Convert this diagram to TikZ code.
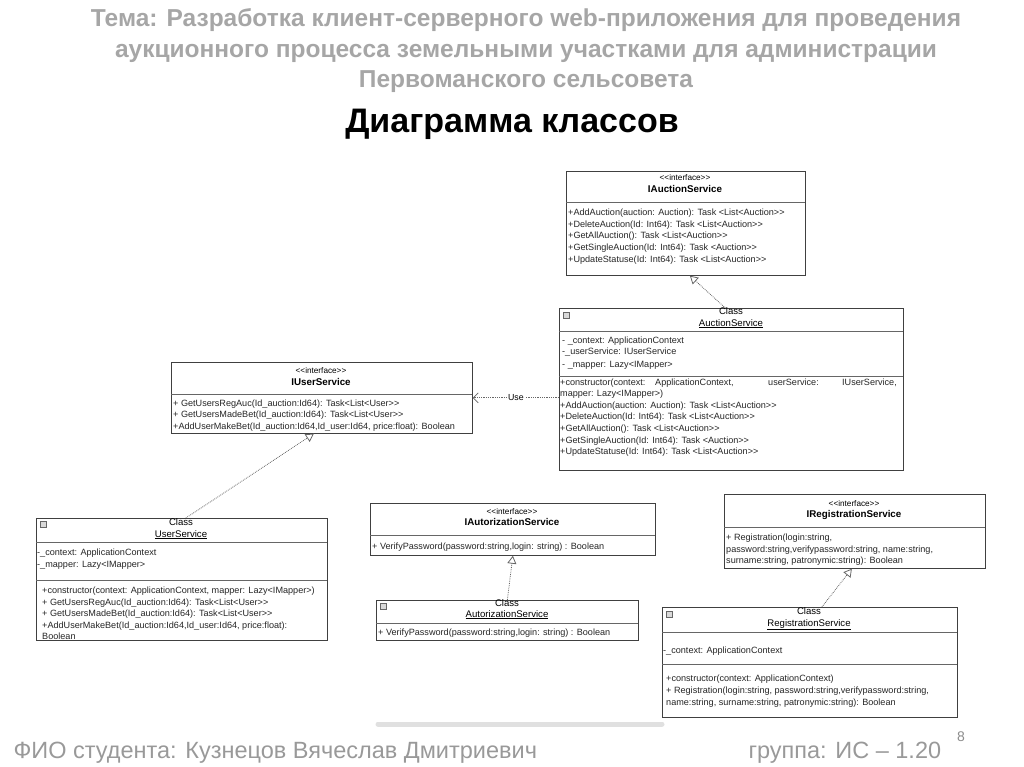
\documentclass[tikz,border=0pt]{standalone}
\usepackage{fontspec}
\setmainfont{Liberation Sans}[Ligatures=TeXOff]
\usetikzlibrary{arrows.meta, calc}

\newcommand\memfont{\fontsize{9.1}{10}\selectfont}
\newcommand\stfont{\fontsize{8.2}{9}\selectfont}
\newcommand\titlefont{\bfseries\fontsize{24.5}{30.5}\selectfont}
\newcommand\footfont{\fontsize{23.5}{26}\selectfont}

\begin{document}
\begin{tikzpicture}[
  x=1pt, y=-1pt,
  box/.style={draw=black!75, line width=0.7pt, fill=white, anchor=north west, inner sep=0pt},
  sep/.style={draw=black!60, line width=0.6pt},
  mem/.style={anchor=base west, inner sep=0pt, font=\memfont, text=black!85},
  stereo/.style={anchor=base, inner sep=0pt, font=\stfont},
  iname/.style={anchor=base, inner sep=0pt, font=\fontsize{9.8}{11}\selectfont\bfseries},
  cname/.style={anchor=base, inner sep=0pt, font=\fontsize{9.6}{11}\selectfont},
  icon/.style={draw=black!60, fill=black!15, line width=0.4pt},
  real/.style={densely dotted, draw=black!60, thick, -{Triangle[open, length=8pt, width=9pt]}},
  use/.style={densely dotted, draw=black!60, thick, -{Straight Barb[length=5pt, width=10pt]}}
]
  \useasboundingbox (0,0) rectangle (1024,767);

  % header
  \node[font=\titlefont, text=black!35, align=center] (theme) at (526,51)
    {Тема:  Разработка клиент-серверного web-приложения для проведения\\
     аукционного процесса земельными участками для администрации\\
     Первоманского сельсовета};
  \node[font=\bfseries\fontsize{34}{38}\selectfont] (heading) at (512,124) {Диаграмма классов};

  % IAuctionService
  \node[box, minimum width=239pt, minimum height=104pt] (ias) at (566,171) {};
  \node[stereo] (ias-st) at (685,181) {<<interface>>};
  \node[iname] (ias-n) at (685,193) {IAuctionService};
  \draw[sep] (566,202) -- (805,202);
  \node[mem] (ias-m1) at (568,215) {+AddAuction(auction: Auction): Task <List<Auction>>};
  \node[mem] (ias-m2) at (568,227) {+DeleteAuction(Id: Int64): Task <List<Auction>>};
  \node[mem] (ias-m3) at (568,239) {+GetAllAuction(): Task <List<Auction>>};
  \node[mem] (ias-m4) at (568,250) {+GetSingleAuction(Id: Int64): Task <Auction>>};
  \node[mem] (ias-m5) at (568,262) {+UpdateStatuse(Id: Int64): Task <List<Auction>>};

  % AuctionService
  \node[box, minimum width=344pt, minimum height=162pt] (as) at (559,308) {};
  \draw[icon] (563,312) rectangle ++(6,6);
  \node[cname] (as-st) at (731,314) {Class};
  \node[cname] (as-n) at (731,326) {\underline{AuctionService}};
  \draw[sep] (559,331) -- (903,331);
  \node[mem] (as-a1) at (562,343) {- \_context: ApplicationContext};
  \node[mem] (as-a2) at (562,354) {-\_userService: IUserService};
  \node[mem] (as-a3) at (562,367) {- \_mapper: Lazy<IMapper>};
  \draw[sep, line width=1pt] (559,376) -- (903,376);
  \node[mem] (as-c1) at (560,385) {+constructor(context:};
  \node[mem] (as-c2) at (655,385) {ApplicationContext,};
  \node[mem] (as-c3) at (768,385) {userService:};
  \node[mem] (as-c4) at (842,385) {IUserService,};
  \node[mem] (as-c5) at (560,396) {mapper: Lazy<IMapper>)};
  \node[mem] (as-m1) at (560,408) {+AddAuction(auction: Auction): Task <List<Auction>>};
  \node[mem] (as-m2) at (560,419) {+DeleteAuction(Id: Int64): Task <List<Auction>>};
  \node[mem] (as-m3) at (560,431) {+GetAllAuction(): Task <List<Auction>>};
  \node[mem] (as-m4) at (560,443) {+GetSingleAuction(Id: Int64): Task <Auction>>};
  \node[mem] (as-m5) at (560,454) {+UpdateStatuse(Id: Int64): Task <List<Auction>>};

  % IUserService
  \node[box, minimum width=301pt, minimum height=71pt] (ius) at (171,362) {};
  \node[stereo] (ius-st) at (321,373) {<<interface>>};
  \node[iname] (ius-n) at (321,385) {IUserService};
  \draw[sep] (171,394) -- (472,394);
  \node[mem] (ius-m1) at (173,406) {+ GetUsersRegAuc(Id\_auction:Id64): Task<List<User>>};
  \node[mem] (ius-m2) at (173,417) {+ GetUsersMadeBet(Id\_auction:Id64): Task<List<User>>};
  \node[mem] (ius-m3) at (173,429) {+AddUserMakeBet(Id\_auction:Id64,Id\_user:Id64, price:float): Boolean};

  % UserService
  \node[box, minimum width=291pt, minimum height=122pt] (us) at (36,518) {};
  \draw[icon] (40,521) rectangle ++(6,6);
  \node[cname] (us-st) at (181,525) {Class};
  \node[cname] (us-n) at (181,537) {\underline{UserService}};
  \draw[sep] (36,542) -- (327,542);
  \node[mem] (us-a1) at (37,555) {-\_context: ApplicationContext};
  \node[mem] (us-a2) at (37,567) {-\_mapper: Lazy<IMapper>};
  \draw[sep] (36,580) -- (327,580);
  \node[mem] (us-m1) at (42,593) {+constructor(context: ApplicationContext, mapper: Lazy<IMapper>)};
  \node[mem] (us-m2) at (42,605) {+ GetUsersRegAuc(Id\_auction:Id64): Task<List<User>>};
  \node[mem] (us-m3) at (42,616) {+ GetUsersMadeBet(Id\_auction:Id64): Task<List<User>>};
  \node[mem] (us-m4) at (42,628) {+AddUserMakeBet(Id\_auction:Id64,Id\_user:Id64, price:float):};
  \node[mem] (us-m5) at (42,639) {Boolean};

  % IAutorizationService
  \node[box, minimum width=285pt, minimum height=52pt] (iaz) at (370,503) {};
  \node[stereo] (iaz-st) at (512,514) {<<interface>>};
  \node[iname] (iaz-n) at (512,525) {IAutorizationService};
  \draw[sep] (370,535) -- (655,535);
  \node[mem] (iaz-m1) at (372,549) {+ VerifyPassword(password:string,login: string) : Boolean};

  % AutorizationService
  \node[box, minimum width=262pt, minimum height=40pt] (az) at (376,600) {};
  \draw[icon] (380,603) rectangle ++(6,6);
  \node[cname] (az-st) at (507,606) {Class};
  \node[cname] (az-n) at (507,617) {\underline{AutorizationService}};
  \draw[sep] (376,623) -- (638,623);
  \node[mem] (az-m1) at (378,635) {+ VerifyPassword(password:string,login: string) : Boolean};

  % IRegistrationService
  \node[box, minimum width=261pt, minimum height=74pt] (irs) at (724,494) {};
  \node[stereo] (irs-st) at (854,506) {<<interface>>};
  \node[iname] (irs-n) at (854,517) {IRegistrationService};
  \draw[sep] (724,527) -- (985,527);
  \node[mem] (irs-m1) at (726,540) {+ Registration(login:string,};
  \node[mem] (irs-m2) at (726,552) {password:string,verifypassword:string, name:string,};
  \node[mem] (irs-m3) at (726,563) {surname:string, patronymic:string): Boolean};

  % RegistrationService
  \node[box, minimum width=295pt, minimum height=110pt] (rs) at (662,607) {};
  \draw[icon] (666,611) rectangle ++(6,6);
  \node[cname] (rs-st) at (809,614) {Class};
  \node[cname] (rs-n) at (809,626) {\underline{RegistrationService}};
  \draw[sep] (662,632) -- (957,632);
  \node[mem] (rs-a1) at (663,653) {-\_context: ApplicationContext};
  \draw[sep] (662,664) -- (957,664);
  \node[mem] (rs-m1) at (666,681) {+constructor(context: ApplicationContext)};
  \node[mem] (rs-m2) at (666,693) {+ Registration(login:string, password:string,verifypassword:string,};
  \node[mem] (rs-m3) at (666,705) {name:string, surname:string, patronymic:string): Boolean};

  % connectors
  \draw[real] ($(as.north)+(-6,0)$) -- ($(ias.south)+(4,0)$);
  \draw[use] (as.west |- ius.east) -- node[fill=white, inner sep=1pt, font=\fontsize{8.8}{10}\selectfont] (uselbl) {Use} (ius.east);
  \draw[real] ($(us.north)+(4,0)$) -- ($(ius.south)+(-8,0)$);
  \draw[real] (az.north) -- (iaz.south);
  \draw[real] ($(rs.north)+(12,0)$) -- ($(irs.south)+(-3,0)$);

  % footer
  \draw[line width=5pt, black!12, line cap=round] (378,724) -- (662,724);
  \node[anchor=base, font=\fontsize{14}{16}\selectfont, text=black!45] (page) at (961,741) {8};
  \node[anchor=base west, font=\footfont, text=black!40] (student) at (10,758)
    {ФИО студента: Кузнецов Вячеслав Дмитриевич};
  \node[anchor=base west, font=\footfont, text=black!40] (group) at (745,758)
    {группа: ИС – 1.20};
\end{tikzpicture}
\end{document}
